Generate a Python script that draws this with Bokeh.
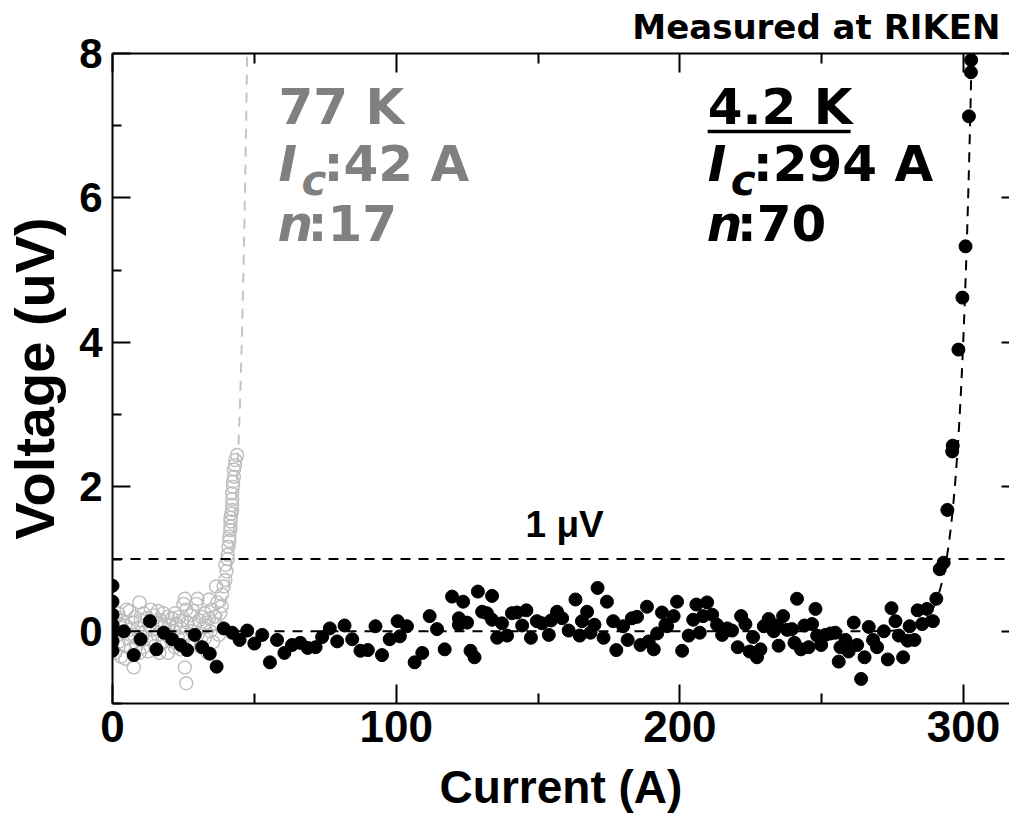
import numpy as np
from bokeh.plotting import figure
from bokeh.models import Range1d, LinearAxis, FixedTicker, Span, Label, BoxAnnotation
from bokeh.embed import file_html
from bokeh.resources import INLINE

# ---------------- data ----------------
# 4.2 K measurement
I_42K = [0, 0, 0, 0, 0, 0, 0,
         4.0, 7.5, 9.9, 13.2, 15.5, 18.1, 21.0, 24.0, 26.3, 29.0, 31.6, 34.3, 36.7, 39.2,
         42.2, 44.8, 47.5, 50.0, 52.8, 55.5, 58.0, 60.6, 63.3, 66.2, 68.8, 71.6, 73.9, 76.6,
         79.2, 81.8, 84.5, 87.4, 90.0, 92.7, 95.0, 97.7, 100.5, 101.3, 103.8, 106.5, 109.2,
         111.8, 114.4, 117.1, 119.7, 122.1, 122.1, 123.6, 125.0, 126.2, 127.6, 128.8, 130.3,
         132.0, 133.8, 133.8, 135.6, 137.3, 139.1, 140.8, 142.6, 144.4, 145.9, 147.5, 149.6,
         151.4, 153.8, 154.6, 156.7, 158.5, 160.8, 163.2, 164.7, 165.5, 167.3, 168.5, 169.9,
         171.0, 173.1, 174.3, 176.5, 177.6, 180.0, 181.6, 183.1, 184.9, 186.1, 188.4, 189.0,
         190.8, 192.0, 193.7, 194.9, 195.5, 197.8, 199.0, 200.8, 203.1, 204.7, 205.8, 207.0,
         208.2, 209.6, 211.4, 213.1, 214.9, 216.7, 218.4, 220.4, 221.6, 223.1, 224.6, 225.8,
         227.2, 228.4, 229.6, 231.3, 233.1, 234.3, 234.8, 236.4, 237.8, 239.5, 240.4, 241.3,
         242.7, 243.9, 245.4, 246.6, 247.8, 248.4, 249.8, 251.3, 253.1, 254.8, 256.0, 256.6,
         258.4, 259.5, 261.3, 262.5, 263.9, 265.1, 266.6, 268.1, 269.5, 271.9, 273.3, 274.6,
         276.0, 277.2, 278.7, 280.3, 281.0, 282.7, 283.8, 285.4, 287.1, 289.2, 290.4, 291.6,
         293.0, 294.3, 296.0, 296.2, 298.2, 299.6, 300.7, 301.9, 302.6, 302.7]
V_42K = [0.63, 0.41, 0.23, 0.09, -0.02, -0.14, -0.27,
         0.00, -0.33, -0.11, 0.14, -0.25, -0.02, -0.11, -0.19, -0.26, -0.05, -0.22, -0.31, -0.49, 0.04,
         -0.02, -0.12, 0.01, -0.17, -0.05, -0.43, -0.12, -0.30, -0.19, -0.16, -0.23, -0.22, -0.08, 0.04,
         -0.14, 0.08, -0.11, -0.27, -0.26, 0.07, -0.33, -0.11, 0.14, -0.07, 0.07, -0.43, -0.30,
         0.21, 0.03, -0.25, 0.48, 0.18, 0.09, 0.41, 0.12, -0.27, -0.36, 0.55, 0.27,
         0.25, 0.49, 0.16, -0.09, 0.11, -0.06, 0.25, 0.26, 0.08, 0.29, -0.09, 0.14,
         0.11, -0.05, 0.15, 0.27, 0.18, 0.01, 0.44, -0.06, 0.14, 0.27, -0.02, 0.09,
         0.60, -0.09, 0.41, 0.14, -0.26, 0.07, -0.12, 0.18, 0.20, -0.19, 0.34, -0.14,
         -0.25, -0.03, 0.26, 0.09, 0.07, 0.21, 0.41, -0.27, -0.06, 0.16, 0.37, -0.02,
         0.21, 0.40, 0.23, 0.09, -0.05, 0.04, 0.01, -0.22, 0.21, 0.10, -0.28, -0.08,
         -0.36, -0.25, 0.07, 0.17, 0.00, 0.08, -0.20, 0.21, 0.02, 0.03, -0.16, 0.45,
         -0.25, 0.08, -0.22, 0.10, 0.31, -0.06, -0.19, -0.05, -0.03, -0.02, -0.42, -0.22,
         -0.12, -0.28, 0.12, -0.19, -0.66, -0.36, 0.06, -0.12, -0.22, 0.00, -0.39, 0.32,
         0.14, -0.06, -0.36, -0.13, 0.07, -0.12, 0.29, 0.10, 0.31, 0.14, 0.45, 0.86,
         0.95, 1.68, 2.49, 2.57, 3.90, 4.62, 5.33, 7.13, 7.74, 7.91]

# 77 K measurement
I_77K = [0.0, 0.0, 0.0, 0.0, 0.5, 1.0, 1.0, 1.5, 2.0, 2.0, 2.5, 3.0, 3.0, 3.5, 4.0, 4.5, 4.5,
         5.0, 5.5, 6.0, 6.0, 6.5, 7.0, 7.5, 7.5, 8.0, 8.5, 9.0, 9.5, 9.5, 10.0, 10.5, 11.0,
         11.0, 11.5, 12.0, 12.5, 13.0, 13.5, 13.5, 14.0, 14.5, 15.0, 15.5, 16.0, 16.0, 16.5,
         17.0, 17.5, 18.0, 18.0, 18.5, 19.0, 19.5, 19.5, 20.0, 20.5, 21.0, 21.5, 22.0, 22.0,
         22.5, 23.0, 23.5, 24.0, 24.0, 24.5, 25.0, 25.0, 25.5, 25.5, 26.0, 26.0, 26.5, 27.0,
         27.5, 28.0, 28.5, 28.5, 29.0, 29.5, 30.0, 30.0, 30.5, 31.0, 31.5, 32.0, 32.5, 32.5,
         33.0, 33.5, 34.0, 34.0, 34.5, 35.0, 35.5, 36.0, 36.5, 36.5, 37.0, 37.5, 38.0, 38.5,
         38.6, 39.2, 39.8, 40.2, 39.8, 40.6, 40.6, 40.9, 41.2, 41.2, 41.5, 41.6, 41.6, 41.6,
         41.9, 42.2, 42.2, 42.2, 42.2, 42.5, 42.5, 42.8, 42.8, 43.2, 43.3, 43.9]
V_77K = [0.05, -0.10, 0.15, -0.25, -0.05, 0.20, -0.30, 0.00, -0.15, 0.25, 0.10, -0.35, 0.05,
         0.15, -0.20, -0.38, 0.08, 0.30, -0.10, 0.02, 0.28, -0.25, 0.12, -0.50, -0.05, 0.20,
         -0.18, 0.05, 0.40, -0.30, 0.15, -0.08, 0.25, -0.22, 0.00, 0.18, -0.28, 0.08, 0.30,
         -0.12, 0.02, 0.22, -0.20, 0.12, 0.28, -0.05, -0.30, 0.15, 0.05, -0.15, 0.25, 0.10,
         -0.05, -0.30, 0.20, 0.08, -0.12, 0.18, 0.00, -0.22, 0.25, 0.10, -0.08, 0.20, -0.25,
         0.05, 0.15, 0.38, -0.10, 0.45, -0.50, -0.72, 0.30, 0.12, -0.20, 0.22, 0.00, 0.28,
         -0.15, 0.10, 0.38, 0.45, -0.05, 0.15, -0.22, 0.20, 0.05, -0.10, 0.25, 0.12, -0.30,
         0.44, 0.18, 0.00, 0.30, -0.15, 0.20, 0.62, 0.10, 0.40, -0.05, 0.25, 0.35,
         0.51, 0.62, 0.71, 0.83, 0.92, 1.00, 1.06, 1.17, 1.25, 1.31, 1.40, 1.45, 1.52, 1.57,
         1.63, 1.68, 1.75, 1.83, 1.91, 2.00, 2.07, 2.14, 2.24, 2.30, 2.37, 2.44]

# fit parameters shown on the chart
IC_42K, N_42K = 294, 70
IC_77K, N_77K = 42, 17
CRITERION_UV = 1.0

x_major = [0, 100, 200, 300]
x_minor = [50, 150, 250]
y_major = [0, 2, 4, 6, 8]
y_minor = [-1, 1, 3, 5, 7]

X_MAX, Y_MIN, Y_MAX = 316.2, -1, 8

# ---------------- figure ----------------
p = figure(width=1009, height=815, x_range=Range1d(0, X_MAX), y_range=Range1d(Y_MIN, Y_MAX),
           output_backend="svg", toolbar_location=None,
           min_border_left=112, min_border_right=0, min_border_top=53, min_border_bottom=112,
           outline_line_color=None, background_fill_color="white", border_fill_color="white")
p.grid.visible = False

AX_FONT = "Liberation Sans"
TXT_FONT = "DejaVu Sans"


def style_axis(ax, major_in, minor_in, labels=True, size="42px"):
    ax.axis_line_width = 2
    ax.axis_line_color = "black"
    ax.major_tick_line_width = 2
    ax.minor_tick_line_width = 2
    ax.major_tick_in = major_in
    ax.major_tick_out = 0
    ax.minor_tick_in = minor_in
    ax.minor_tick_out = 0
    if labels:
        ax.major_label_text_font = AX_FONT
        ax.major_label_text_font_style = "bold"
        ax.major_label_text_font_size = size
        ax.major_label_text_color = "black"
        ax.axis_label_text_font = AX_FONT
        ax.axis_label_text_font_style = "bold"
        ax.axis_label_text_color = "black"
    else:
        ax.major_label_text_color = None
        ax.major_label_text_font_size = "1px"
        ax.major_label_standoff = 0


xax = p.xaxis[0]
xax.ticker = FixedTicker(ticks=x_major, minor_ticks=x_minor)
style_axis(xax, 19, 10, size="44px")
xax.major_label_standoff = 7
xax.axis_label = "Current (A)"
xax.axis_label_text_font_size = "46px"
xax.axis_label_standoff = 16

yax = p.yaxis[0]
yax.ticker = FixedTicker(ticks=y_major, minor_ticks=y_minor)
style_axis(yax, 18, 9, size="42px")
yax.major_label_standoff = 10
yax.major_label_orientation = "horizontal"
yax.axis_label = "Voltage (uV)"
yax.axis_label_text_font_size = "56px"
yax.axis_label_standoff = 10

top = LinearAxis(ticker=FixedTicker(ticks=x_major, minor_ticks=x_minor))
style_axis(top, 19, 10, labels=False)
p.add_layout(top, "above")

right = LinearAxis(ticker=FixedTicker(ticks=y_major, minor_ticks=y_minor))
style_axis(right, 8, 0, labels=False)
right.axis_line_color = None
p.add_layout(right, "right")

p.title.text = "Measured at RIKEN"
p.title.align = "right"
p.title.vertical_align = "top"
p.title.text_font = TXT_FONT
p.title.text_font_style = "bold"
p.title.text_font_size = "34px"
p.title.text_color = "black"
p.title.offset = 9
p.title.standoff = 10

# ---------------- fit curves V = Vc (I/Ic)^n ----------------
I_fit77 = np.linspace(0, IC_77K * (Y_MAX / CRITERION_UV) ** (1 / N_77K), 400)
V_fit77 = CRITERION_UV * (I_fit77 / IC_77K) ** N_77K
I_fit42 = np.linspace(0, IC_42K * (Y_MAX / CRITERION_UV) ** (1 / N_42K), 1200)
V_fit42 = CRITERION_UV * (I_fit42 / IC_42K) ** N_42K

p.add_layout(Span(location=CRITERION_UV, dimension="width", line_color="black",
                  line_width=2, line_dash="10 8"))

p.line(I_fit77, V_fit77, line_color="#c4c4c4", line_width=2, line_dash="10 8")
p.scatter(I_77K, V_77K, marker="circle", size=13, fill_color=None,
          line_color="#bdbdbd", line_width=1.4)
p.line(I_fit42, V_fit42, line_color="black", line_width=2, line_dash="10 8")
p.scatter(I_42K, V_42K, marker="circle", size=13, fill_color="black", line_color="black")

# ---------------- annotations ----------------
GRAY_TXT = "#808080"
G_X = 58.5
B_X = 209.8
L1, L2, L3 = 7.02, 6.23, 5.40
BASE_SHIFT = 0.34   # label anchor -> glyph baseline correction (in em)


def lab(x, y, text, size, col, style="bold", dx=0, dy=0, font=TXT_FONT, align="left"):
    p.add_layout(Label(x=x, y=y, x_offset=dx, y_offset=dy + BASE_SHIFT * size,
                       text=text, text_font=font, text_font_style=style,
                       text_font_size=f"{size}px", text_color=col,
                       text_baseline="alphabetic", text_align=align))


def block(x0, col, lines):
    t1, ic, n = lines
    lab(x0, L1, t1, 50, col)
    lab(x0, L2, "I", 50, col, style="bold italic")
    lab(x0, L2, "c", 42, col, style="bold italic", dx=23, dy=-13)
    lab(x0, L2, ":" + ic, 50, col, dx=45)
    lab(x0, L3, "n", 50, col, style="bold italic", dx=-1)
    lab(x0, L3, ":" + n, 50, col, dx=29)


block(G_X, GRAY_TXT, ["77 K", f"{IC_77K} A", f"{N_77K}"])
block(B_X, "black", ["4.2 K", f"{IC_42K} A", f"{N_42K}"])
# underline of "4.2 K"
p.add_layout(BoxAnnotation(left=B_X, right=B_X + 50.4, bottom=6.895, top=6.943,
                           fill_color="black", fill_alpha=1, line_color=None))

lab(145.6, 1.30, "1 \u03bcV", 37, "black", font=AX_FONT)

open("out.html", "w").write(file_html(p, INLINE))
